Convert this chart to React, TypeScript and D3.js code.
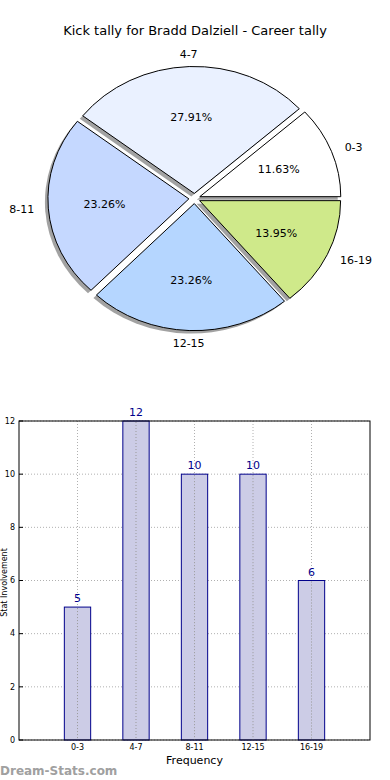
import { useEffect, useRef } from 'react';
import * as d3 from 'd3';

// pie data
const categories = ['0-3', '4-7', '8-11', '12-15', '16-19'];
const counts = [5, 12, 10, 10, 6];
const sliceColors = ['#ffffff', '#eaf1ff', '#c5d8ff', '#b5d6ff', '#cfe98a'];

// bar chart axis
const yTicks = [0, 2, 4, 6, 8, 10, 12];

const App = () => {
  const svgRef = useRef<SVGSVGElement | null>(null);

  useEffect(() => {
    if (!svgRef.current) return;
    const svg = d3.select(svgRef.current);
    svg.selectAll('*').remove();
    const font = 'DejaVu Sans, sans-serif';

    // title
    svg.append('text')
      .attr('x', 195).attr('y', 35)
      .attr('text-anchor', 'middle')
      .attr('font-family', font).attr('font-size', 13)
      .text('Kick tally for Bradd Dalziell - Career tally');

    // ---- pie ----
    const cx = 194.5, cy = 198.5;
    const rx = 141, ry = 127;
    const total = d3.sum(counts);
    const pie = d3.pie<number>().sort(null).value(d => d)
      .startAngle(Math.PI / 2).endAngle(Math.PI / 2 - 2 * Math.PI);
    const arcs = pie(counts);
    const arc = d3.arc<d3.PieArcDatum<number>>().innerRadius(0).outerRadius(1);
    const explode = 0.04;

    const pieG = svg.append('g')
      .attr('transform', `translate(${cx},${cy}) scale(${rx},${ry})`);

    const mid = (a: d3.PieArcDatum<number>) => (a.startAngle + a.endAngle) / 2;
    const off = (a: d3.PieArcDatum<number>, k: number) => [Math.sin(mid(a)) * k, -Math.cos(mid(a)) * k];

    // shadows
    pieG.append('g').selectAll('path').data(arcs).join('path')
      .attr('d', arc as any)
      .attr('transform', d => {
        const [ox, oy] = off(d, explode);
        return `translate(${ox - 3 / rx},${oy + 3 / ry})`;
      })
      .attr('fill', '#555').attr('fill-opacity', 0.55);

    pieG.append('g').selectAll('path').data(arcs).join('path')
      .attr('d', arc as any)
      .attr('transform', d => {
        const [ox, oy] = off(d, explode);
        return `translate(${ox},${oy})`;
      })
      .attr('fill', (d, i) => sliceColors[i])
      .attr('stroke', '#000')
      .attr('stroke-width', 1)
      .attr('vector-effect', 'non-scaling-stroke');

    // percent labels
    svg.append('g').selectAll('text').data(arcs).join('text')
      .attr('x', d => cx + Math.sin(mid(d)) * (0.6 + explode) * rx)
      .attr('y', d => cy - Math.cos(mid(d)) * (0.6 + explode) * ry)
      .attr('dy', '0.35em')
      .attr('text-anchor', 'middle')
      .attr('font-family', font).attr('font-size', 11)
      .text(d => `${((d.value / total) * 100).toFixed(2)}%`);

    // category labels
    svg.append('g').selectAll('text').data(arcs).join('text')
      .attr('x', d => cx + Math.sin(mid(d)) * (1.1 + explode) * rx)
      .attr('y', d => cy - Math.cos(mid(d)) * (1.1 + explode) * ry)
      .attr('dy', '0.35em')
      .attr('text-anchor', d => {
        const s = Math.sin(mid(d));
        return s > 0.3 ? 'start' : s < -0.3 ? 'end' : 'middle';
      })
      .attr('font-family', font).attr('font-size', 11)
      .text((d, i) => categories[i]);

    // ---- bar chart ----
    const left = 19, right = 370, top = 421, bottom = 740;
    const x = d3.scaleLinear().domain([-1, 5]).range([left, right]);
    const y = d3.scaleLinear().domain([0, 12]).range([bottom, top]);
    const barW = (x(0.45) - x(0));

    const grid = svg.append('g')
      .attr('stroke', '#b0b0b0')
      .attr('stroke-dasharray', '1,2');
    grid.selectAll('line.h').data(yTicks).join('line')
      .attr('x1', left).attr('x2', right)
      .attr('y1', d => y(d)).attr('y2', d => y(d));
    grid.selectAll('line.v').data(categories).join('line')
      .attr('x1', (d, i) => x(i)).attr('x2', (d, i) => x(i))
      .attr('y1', top).attr('y2', bottom);

    svg.append('g').selectAll('rect').data(counts).join('rect')
      .attr('x', (d, i) => x(i) - barW / 2)
      .attr('y', d => y(d))
      .attr('width', barW)
      .attr('height', d => bottom - y(d))
      .attr('fill', '#ccccE6')
      .attr('stroke', '#00008b')
      .attr('stroke-width', 1);

    // vertical grid stays visible through the bars
    svg.append('g')
      .attr('stroke', '#999')
      .attr('stroke-dasharray', '1,2')
      .selectAll('line').data(counts).join('line')
      .attr('x1', (d, i) => x(i)).attr('x2', (d, i) => x(i))
      .attr('y1', d => y(d) + 1).attr('y2', bottom);

    svg.append('g').selectAll('text').data(counts).join('text')
      .attr('x', (d, i) => x(i))
      .attr('y', d => y(d) - 5)
      .attr('text-anchor', 'middle')
      .attr('font-family', font).attr('font-size', 11)
      .attr('fill', '#00008b')
      .text(d => d);

    svg.append('rect')
      .attr('x', left).attr('y', top)
      .attr('width', right - left).attr('height', bottom - top)
      .attr('fill', 'none').attr('stroke', '#000').attr('stroke-width', 1);

    // y ticks
    const yAxis = svg.append('g').attr('font-family', font).attr('font-size', 8);
    yAxis.selectAll('text').data(yTicks).join('text')
      .attr('x', left - 4).attr('y', d => y(d))
      .attr('dy', '0.35em').attr('text-anchor', 'end')
      .text(d => d);
    yAxis.selectAll('line').data(yTicks).join('line')
      .attr('x1', left).attr('x2', left + 4)
      .attr('y1', d => y(d)).attr('y2', d => y(d))
      .attr('stroke', '#000');

    // x ticks
    const xAxis = svg.append('g').attr('font-family', font).attr('font-size', 8);
    xAxis.selectAll('text').data(categories).join('text')
      .attr('x', (d, i) => x(i)).attr('y', bottom + 10)
      .attr('text-anchor', 'middle')
      .text(d => d);

    svg.append('text')
      .attr('x', (left + right) / 2).attr('y', bottom + 24)
      .attr('text-anchor', 'middle')
      .attr('font-family', font).attr('font-size', 11)
      .text('Frequency');

    svg.append('text')
      .attr('transform', `translate(7,${(top + bottom) / 2 + 2}) rotate(-90)`)
      .attr('text-anchor', 'middle')
      .attr('font-family', font).attr('font-size', 8)
      .text('Stat Involvement');

    svg.append('text')
      .attr('x', 0).attr('y', 775)
      .attr('font-family', font).attr('font-size', 12)
      .attr('font-weight', 'bold')
      .attr('fill', '#a0a0a0')
      .text('Dream-Stats.com');
  }, []);

  return (
    <svg ref={svgRef} width={390} height={780}
      style={{ position: 'absolute', left: 0, top: 0, background: '#fff' }} />
  );
};

export default App;
